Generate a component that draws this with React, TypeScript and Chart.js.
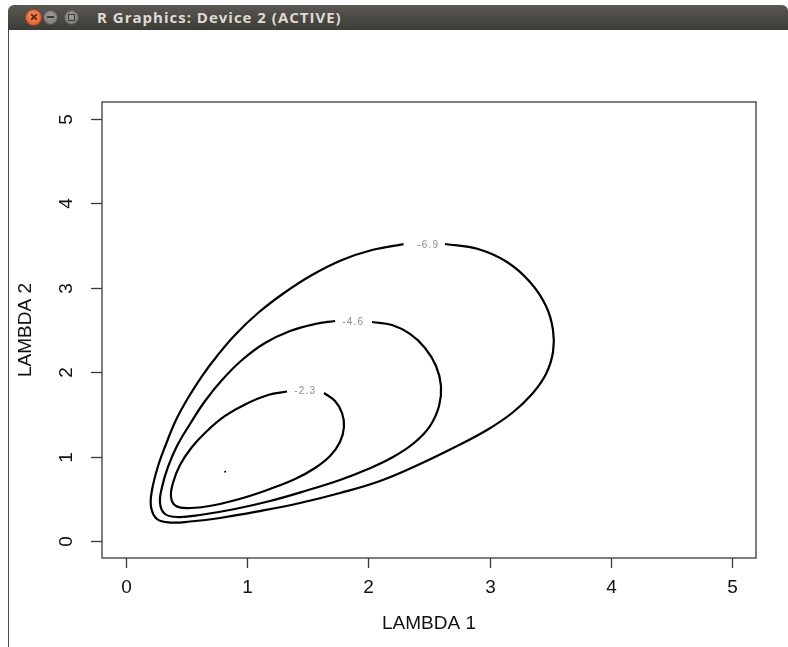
import React, { useEffect, useRef } from "react";
import { Chart, registerables } from "chart.js";

Chart.register(...registerables);

const windowTitle = "R Graphics: Device 2 (ACTIVE)";
const xTitle = "LAMBDA 1";
const yTitle = "LAMBDA 2";
const xTicks = [0, 1, 2, 3, 4, 5];
const yTicks = [0, 1, 2, 3, 4, 5];
const axisMin = -0.2;
const axisMax = 5.2;

// contour level -6.9 (open at its label)
const c69X = [2.632, 2.905, 3.144, 3.334, 3.466, 3.524, 3.524, 3.466, 3.351, 3.186, 2.979, 2.715, 2.426, 2.096, 1.765, 1.435, 1.105, 0.775, 0.527, 0.362, 0.254, 0.205, 0.213, 0.263, 0.329, 0.411, 0.51, 0.626, 0.75, 0.898, 1.088, 1.303, 1.534, 1.782, 2.03, 2.29];
const c69Y = [3.518, 3.459, 3.305, 3.068, 2.784, 2.5, 2.239, 1.979, 1.742, 1.517, 1.316, 1.114, 0.913, 0.712, 0.57, 0.451, 0.356, 0.274, 0.232, 0.22, 0.262, 0.404, 0.605, 0.889, 1.15, 1.434, 1.695, 1.955, 2.192, 2.441, 2.701, 2.938, 3.151, 3.329, 3.447, 3.516];

// contour level -4.6
const c46X = [2.03, 2.195, 2.343, 2.467, 2.558, 2.599, 2.583, 2.508, 2.376, 2.203, 1.997, 1.765, 1.476, 1.187, 0.898, 0.609, 0.428, 0.32, 0.279, 0.296, 0.345, 0.419, 0.527, 0.651, 0.791, 0.956, 1.146, 1.353, 1.559, 1.724];
const c46Y = [2.595, 2.559, 2.453, 2.287, 2.074, 1.837, 1.6, 1.363, 1.162, 0.996, 0.854, 0.724, 0.593, 0.475, 0.38, 0.309, 0.285, 0.321, 0.451, 0.641, 0.878, 1.126, 1.387, 1.659, 1.908, 2.145, 2.346, 2.488, 2.571, 2.607];

// contour level -2.3
const c23X = [1.633, 1.724, 1.782, 1.798, 1.765, 1.683, 1.559, 1.394, 1.187, 0.964, 0.733, 0.527, 0.411, 0.37, 0.386, 0.444, 0.543, 0.667, 0.816, 0.989, 1.171, 1.328];
const c23Y = [1.754, 1.659, 1.517, 1.351, 1.174, 1.008, 0.866, 0.735, 0.617, 0.51, 0.428, 0.392, 0.416, 0.522, 0.688, 0.901, 1.114, 1.304, 1.482, 1.624, 1.73, 1.772];

const contourLabels = ["-6.9", "-4.6", "-2.3"];
const contourLabelX = [2.494, 1.874, 1.478];
const contourLabelY = [3.507, 2.595, 1.777];

const peakX = [0.817];
const peakY = [0.821];

const toPoints = (xs: number[], ys: number[]) => xs.map((x, i) => ({ x, y: ys[i] }));

const FONT = '"Liberation Sans", Arial, Helvetica, sans-serif';

const axesPlugin = {
  id: "rAxes",
  afterDraw(chart: any) {
    const ctx = chart.ctx as CanvasRenderingContext2D;
    const xs = chart.scales.x;
    const ys = chart.scales.y;
    const { left, right, top, bottom } = chart.chartArea;
    ctx.save();
    ctx.strokeStyle = "#3a3a3a";
    ctx.lineWidth = 1.3;
    ctx.strokeRect(left, top, right - left, bottom - top);
    ctx.fillStyle = "#111";
    ctx.font = `19px ${FONT}`;
    ctx.textAlign = "center";
    ctx.textBaseline = "middle";
    xTicks.forEach((v) => {
      const px = Math.round(xs.getPixelForValue(v)) + 0.5;
      ctx.beginPath();
      ctx.moveTo(px, bottom);
      ctx.lineTo(px, bottom + 10);
      ctx.stroke();
      ctx.fillText(String(v), px, bottom + 30);
    });
    ctx.fillText(xTitle, (left + right) / 2, bottom + 66);
    yTicks.forEach((v) => {
      const py = Math.round(ys.getPixelForValue(v)) + 0.5;
      ctx.beginPath();
      ctx.moveTo(left - 11, py);
      ctx.lineTo(left, py);
      ctx.stroke();
      ctx.save();
      ctx.translate(left - 35, py);
      ctx.rotate(-Math.PI / 2);
      ctx.fillText(String(v), 0, 0);
      ctx.restore();
    });
    ctx.save();
    ctx.translate(left - 76, (top + bottom) / 2);
    ctx.rotate(-Math.PI / 2);
    ctx.fillText(yTitle, 0, 0);
    ctx.restore();
    ctx.font = `10px ${FONT}`;
    ctx.fillStyle = "#8c8c8c";
    try {
      (ctx as any).letterSpacing = "1.2px";
    } catch (e) {}
    contourLabels.forEach((t, i) => {
      ctx.fillText(t, xs.getPixelForValue(contourLabelX[i]), ys.getPixelForValue(contourLabelY[i]));
    });
    ctx.restore();
  },
};

export default function App() {
  const ref = useRef<HTMLCanvasElement | null>(null);
  useEffect(() => {
    if (!ref.current) return;
    const line = (data: { x: number; y: number }[]) => ({
      data,
      showLine: true,
      borderColor: "#000",
      borderWidth: 2.2,
      pointRadius: 0,
      tension: 0.4,
      fill: false,
    });
    const chart = new Chart(ref.current, {
      type: "scatter",
      data: {
        datasets: [
          line(toPoints(c69X, c69Y)),
          line(toPoints(c46X, c46Y)),
          line(toPoints(c23X, c23Y)),
          {
            data: toPoints(peakX, peakY),
            pointRadius: 1,
            pointBackgroundColor: "#000",
            pointBorderColor: "#000",
            pointBorderWidth: 0,
          },
        ],
      },
      options: {
        animation: false,
        responsive: false,
        devicePixelRatio: 1,
        events: [],
        layout: { padding: { left: 102, right: 32, top: 102, bottom: 89 } },
        plugins: { legend: { display: false }, tooltip: { enabled: false } },
        scales: {
          x: { type: "linear", min: axisMin, max: axisMax, display: false },
          y: { type: "linear", min: axisMin, max: axisMax, display: false },
        },
      },
      plugins: [axesPlugin],
    });
    return () => chart.destroy();
  }, []);

  const circle = (cx: number, d: number, bg: string, children?: React.ReactNode) => (
    <div
      style={{
        position: "absolute",
        left: cx - d / 2,
        top: 12 - d / 2,
        width: d,
        height: d,
        borderRadius: "50%",
        background: bg,
        boxShadow: "inset 0 0 0 1px rgba(0,0,0,0.35)",
      }}
    >
      {children}
    </div>
  );

  return (
    <div
      style={{
        position: "fixed",
        left: 0,
        top: 0,
        width: 788,
        height: 647,
        background: "#fff",
        overflow: "hidden",
      }}
    >
      <canvas ref={ref} width={788} height={647} style={{ position: "absolute", left: 0, top: 0, width: 788, height: 647 }} />
      <div
        style={{
          position: "absolute",
          left: 8,
          top: 5,
          width: 780,
          height: 25,
          borderRadius: "6px 6px 0 0",
          background: "linear-gradient(#5a5852, #3c3b37)",
        }}
      >
        {circle(25.5, 17, "radial-gradient(circle at 50% 40%, #f7916a, #dd4e1c)",
          <>
            <div style={{ position: "absolute", left: 4.5, top: 7.5, width: 8, height: 2, background: "#6a2c12", transform: "rotate(45deg)" }} />
            <div style={{ position: "absolute", left: 4.5, top: 7.5, width: 8, height: 2, background: "#6a2c12", transform: "rotate(-45deg)" }} />
          </>
        )}
        {circle(42, 15, "radial-gradient(circle at 50% 40%, #a09e98, #6f6e69)",
          <div style={{ position: "absolute", left: 4, top: 6.5, width: 7, height: 2, background: "#3c3b37" }} />
        )}
        {circle(63.5, 15, "radial-gradient(circle at 50% 40%, #a09e98, #6f6e69)",
          <div style={{ position: "absolute", left: 4, top: 4, width: 5, height: 5, border: "1px solid #3c3b37" }} />
        )}
        <div
          style={{
            position: "absolute",
            left: 89,
            top: 2,
            color: "#dfdbd2",
            font: 'bold 15px "Open Sans", "DejaVu Sans", sans-serif',
            letterSpacing: "1px",
            whiteSpace: "nowrap",
          }}
        >
          {windowTitle}
        </div>
      </div>
      <div style={{ position: "absolute", left: 8, top: 30, width: 1, height: 617, background: "#4a4a4a" }} />
    </div>
  );
}
